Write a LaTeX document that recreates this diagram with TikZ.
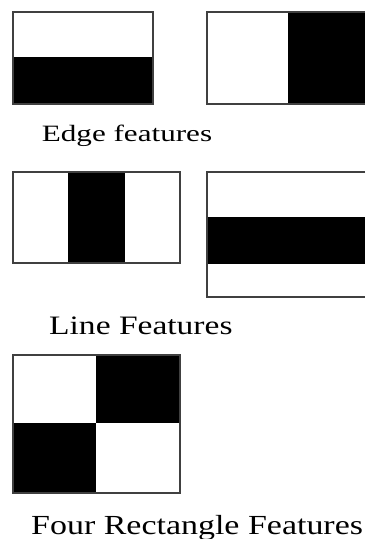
\documentclass[tikz,border=0pt]{standalone}
\usepackage{fontspec}
\setmainfont{Liberation Serif}
\definecolor{frame}{rgb}{0.25,0.25,0.25}

\begin{document}
\begin{tikzpicture}[x=1pt, y=-1pt,
		edge/.style={draw=frame, line width=1.6pt},
		dark/.style={fill=black},
		caption/.style={anchor=base west, inner sep=0pt}
	]
	\useasboundingbox (0,0) rectangle (365,539);

	% edge features
	\fill[dark] (13,57) rectangle (153,104);
	\draw[edge] (13,12) rectangle (153,104);
	\fill[dark] (288,12) rectangle (365,104);
	\draw[edge] (365,12) -- (207,12) -- (207,104) -- (365,104);
	\node[caption] (edgetxt) at (41.7,141.7) {\fontsize{23.4}{26}\selectfont\scalebox{1.33}[1]{Edge features}};

	% line features
	\fill[dark] (68,172) rectangle (125,263);
	\draw[edge] (13,172) rectangle (180,263);
	\fill[dark] (207,217) rectangle (365,264);
	\draw[edge] (365,172) -- (207,172) -- (207,297) -- (365,297);
	\node[caption] (linetxt) at (49,334.3) {\fontsize{26.6}{30}\selectfont\scalebox{1.26}[1]{Line Features}};

	% four rectangle features
	\fill[dark] (13,423) rectangle (96,493);
	\fill[dark] (96,355) rectangle (180,423);
	\draw[edge] (13,355) rectangle (180,493);
	\node[caption] (fourtxt) at (31,534.3) {\fontsize{27.6}{31}\selectfont\scalebox{1.23}[1]{Four Rectangle Features}};

\end{tikzpicture}
\end{document}
